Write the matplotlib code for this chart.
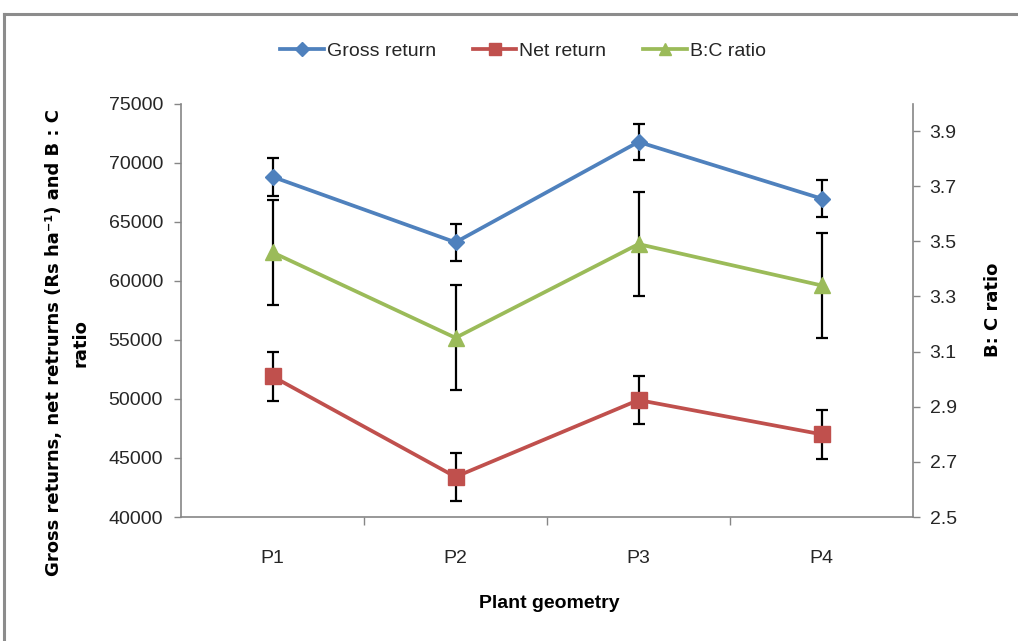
import matplotlib
matplotlib.use('Agg')
import matplotlib.pyplot as plt
from matplotlib.lines import Line2D
from matplotlib.ticker import FixedLocator, NullFormatter, FixedFormatter

# ---- data ----
categories = ['P1', 'P2', 'P3', 'P4']
gross_return = [68800, 63250, 71750, 66950]
gross_err = [1600, 1550, 1550, 1550]
net_return = [51900, 43400, 49900, 47000]
net_err = [2050, 2050, 2050, 2050]
bc_ratio = [3.46, 3.15, 3.49, 3.34]
bc_err = [0.19, 0.19, 0.19, 0.19]
left_ticks = [40000, 45000, 50000, 55000, 60000, 65000, 70000, 75000]
right_ticks = [2.5, 2.7, 2.9, 3.1, 3.3, 3.5, 3.7, 3.9]

W, H = 1018, 641
fig = plt.figure(figsize=(W / 100, H / 100), dpi=100)
fig.patch.set_facecolor('white')

tick_font = ['Liberation Sans Narrow', 'Liberation Sans', 'DejaVu Sans']
label_font = ['DejaVu Sans']
axis_gray = '#868686'
text_col = '#262626'

blue = '#4F81BD'
red = '#C0504D'
green = '#9BBB59'

# outer border (gray frame, running off the image at right/bottom)
fig.add_artist(Line2D([4 / W, 1.0], [1 - 14 / H, 1 - 14 / H], color='#8c8c8c', lw=2.2))
fig.add_artist(Line2D([4 / W, 4 / W], [0, 1 - 14 / H], color='#8c8c8c', lw=2.2))

left, right, top, bottom = 181, 913, 103.5, 517
ax = fig.add_axes([left / W, 1 - bottom / H, (right - left) / W, (bottom - top) / H])
ax2 = ax.twinx()

x = list(range(len(categories)))

# error bars
ax.errorbar(x, gross_return, yerr=gross_err, fmt='none', ecolor='black',
            elinewidth=1.6, capsize=4.5, capthick=1.6, zorder=2)
ax.errorbar(x, net_return, yerr=net_err, fmt='none', ecolor='black',
            elinewidth=1.6, capsize=4.5, capthick=1.6, zorder=2)
ax2.errorbar(x, bc_ratio, yerr=bc_err, fmt='none', ecolor='black',
             elinewidth=1.6, capsize=4.5, capthick=1.6, zorder=2)

l1, = ax.plot(x, gross_return, color=blue, lw=2.7, marker='D', markersize=8.5,
              markerfacecolor=blue, markeredgecolor=blue, zorder=3)
l2, = ax.plot(x, net_return, color=red, lw=2.7, marker='s', markersize=11,
              markerfacecolor=red, markeredgecolor=red, zorder=3)
l3, = ax2.plot(x, bc_ratio, color=green, lw=2.7, marker='^', markersize=12,
               markerfacecolor=green, markeredgecolor=green, zorder=3)

ax.set_xlim(-0.5, 3.5)
ax.set_ylim(40000, 75000)
ax2.set_ylim(2.5, 4.0)

ax.set_yticks(left_ticks)
ax.set_yticklabels([str(v) for v in left_ticks])
ax2.set_yticks(right_ticks)
ax2.set_yticklabels([f'{v:.1f}' for v in right_ticks])

# x ticks: marks at category boundaries, labels at centres
ax.xaxis.set_major_locator(FixedLocator([0.5, 1.5, 2.5]))
ax.xaxis.set_major_formatter(NullFormatter())
ax.xaxis.set_minor_locator(FixedLocator(x))
ax.xaxis.set_minor_formatter(FixedFormatter(categories))
ax.tick_params(axis='x', which='major', direction='out', length=6, color=axis_gray, width=1)
ax.tick_params(axis='x', which='minor', length=0, pad=24, labelsize=14, labelcolor=text_col)
ax.tick_params(axis='y', direction='out', length=5, color=axis_gray, width=1,
               pad=8, labelsize=14, labelcolor=text_col)
ax2.tick_params(axis='y', direction='out', length=5, color=axis_gray, width=1,
                pad=7, labelsize=14, labelcolor=text_col)

for lab in ax.get_xticklabels(minor=True) + ax.get_yticklabels() + ax2.get_yticklabels():
    lab.set_family(tick_font)

for a in (ax, ax2):
    a.spines['top'].set_visible(False)
    for s in a.spines.values():
        s.set_color(axis_gray)
        s.set_linewidth(1.2)
ax.spines['right'].set_visible(False)
ax2.spines['left'].set_visible(False)
ax2.spines['bottom'].set_visible(False)
ax.set_zorder(ax2.get_zorder() - 1)
ax2.patch.set_visible(False)
ax.patch.set_visible(False)

# axis titles
fig.text(67 / W, 1 - 343 / H, 'Gross returns, net retrurns (Rs ha\u207b\u00b9) and B : C\nratio',
         rotation=90, ha='center', va='center', multialignment='center',
         fontsize=13, fontweight='bold', family=label_font, color='black', linespacing=1.6)
fig.text(993 / W, 1 - 310 / H, 'B: C ratio', rotation=90, ha='center', va='center',
         fontsize=13, fontweight='bold', family=label_font, color='black')
fig.text(549 / W, 1 - 604 / H, 'Plant geometry', ha='center', va='center',
         fontsize=14, fontweight='bold', family=tick_font, color='black')

# legend
h1 = Line2D([], [], color=blue, lw=2.7, marker='D', markersize=7)
h2 = Line2D([], [], color=red, lw=2.7, marker='s', markersize=9)
h3 = Line2D([], [], color=green, lw=2.7, marker='^', markersize=9)
leg = fig.legend([h1, h2, h3], ['Gross return', 'Net return', 'B:C ratio'],
                 loc='center', bbox_to_anchor=(523 / W, 1 - 51 / H), ncol=3,
                 frameon=False, handlelength=2.25, handletextpad=0.15,
                 columnspacing=1.9, prop={'family': tick_font, 'size': 14})
for t in leg.get_texts():
    t.set_color(text_col)

fig.savefig('out.png', dpi=100)
